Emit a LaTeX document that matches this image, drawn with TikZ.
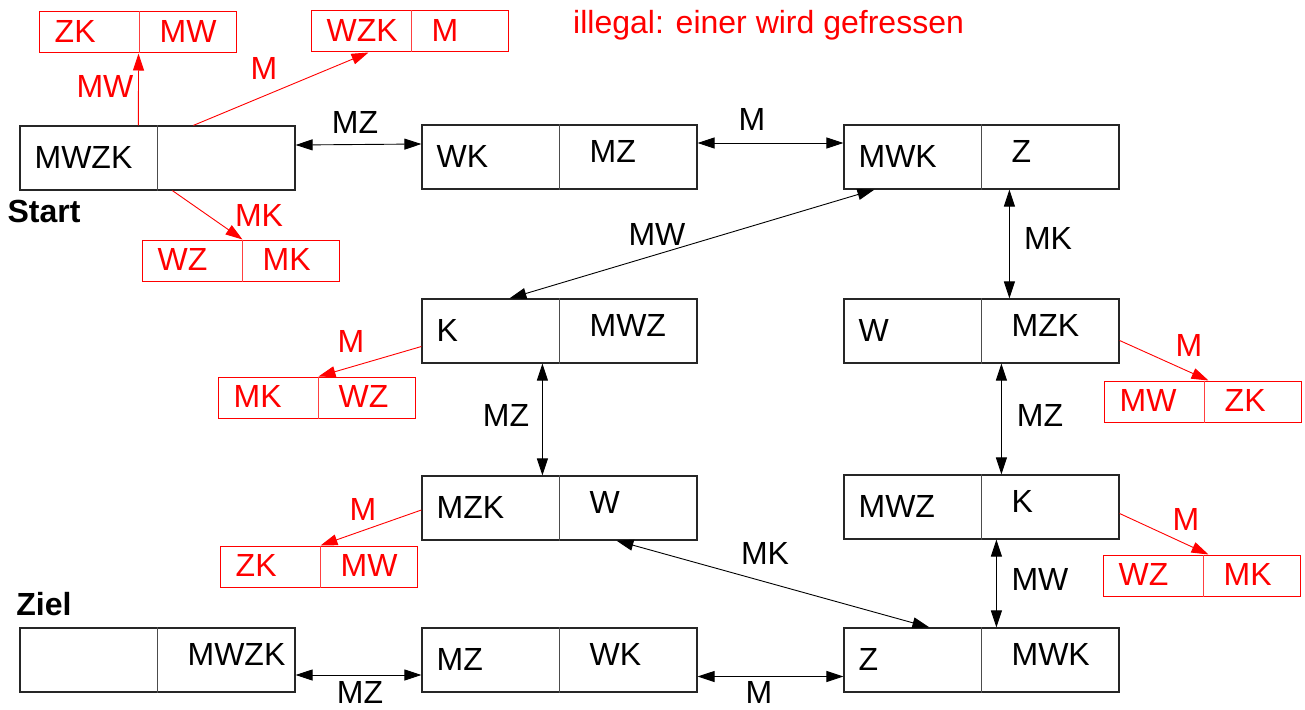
\documentclass[tikz,border=0pt]{standalone}
\usepackage{fontspec}
\setmainfont{Liberation Sans}
\usetikzlibrary{arrows.meta}
\newcommand\fsz{\fontsize{32}{38}\selectfont}
\tikzset{
  sbox/.style={draw=black!85, line width=1.2pt, minimum width=275pt, minimum height=64pt, inner sep=0pt},
  sdiv/.style={draw=black!70, line width=1.1pt},
  rbox/.style={draw=red, line width=1pt, minimum width=197pt, minimum height=41pt, inner sep=0pt},
  rdiv/.style={draw=red!75, line width=0.9pt},
  stext/.style={anchor=west, inner sep=0pt, font=\fsz, text=black},
  rtext/.style={anchor=west, inner sep=0pt, font=\fsz, text=red},
  lab/.style={inner sep=0pt, font=\fsz, text=black},
  rlab/.style={inner sep=0pt, font=\fsz, text=red},
  dbl/.style={line width=0.9pt, {Triangle[length=17pt,width=11pt]}-{Triangle[length=17pt,width=11pt]}},
  rarr/.style={draw=red, line width=0.9pt, -{Triangle[length=17pt,width=11pt]}},
}
\newcommand\statebox[5]{%
  \node[sbox] (#1) at (#2+137.5,#3+32) {};
  \draw[sdiv] ([xshift=138pt]#1.north west) -- ([xshift=138pt]#1.south west);
  \node[stext] (#1l) at ([xshift=15pt,yshift=1pt]#1.west) {#4};
  \node[stext] (#1r) at ([xshift=168pt,yshift=6pt]#1.west) {#5};
}
\newcommand\redbox[5]{%
  \node[rbox] (#1) at (#2+98.5,#3+20.5) {};
  \draw[rdiv] ([xshift=101pt]#1.north west) -- ([xshift=101pt]#1.south west);
  \node[rtext] (#1l) at ([xshift=16pt,yshift=1pt]#1.west) {#4};
  \node[rtext] (#1r) at ([xshift=121pt,yshift=1pt]#1.west) {#5};
}
\begin{document}
\begin{tikzpicture}[x=1pt,y=-1pt]
\useasboundingbox (0,0) rectangle (1305,709);
% black states
\statebox{s1}{20}{126}{MWZK}{}
\statebox{s2}{422}{125}{WK}{MZ}
\statebox{s3}{844}{125}{MWK}{Z}
\statebox{s4}{422}{299}{K}{MWZ}
\statebox{s5}{844}{299}{W}{MZK}
\statebox{s6}{422}{476}{MZK}{W}
\statebox{s7}{844}{475}{MWZ}{K}
\statebox{s8}{20}{628}{}{MWZK}
\statebox{s9}{422}{628}{MZ}{WK}
\statebox{s10}{844}{628}{Z}{MWK}
% red illegal states
\redbox{r1}{39}{12}{ZK}{MW}
\redbox{r2}{311}{11}{WZK}{M}
\redbox{r3}{142}{240}{WZ}{MK}
\redbox{r4}{218}{377}{MK}{WZ}
\redbox{r5}{220}{546}{ZK}{MW}
\redbox{r6}{1104}{381}{MW}{ZK}
\redbox{r7}{1103}{555}{WZ}{MK}
% black connectors
\draw[dbl] ([yshift=13pt]s1.east) -- ([yshift=13pt]s2.west);
\draw[dbl] ([yshift=14pt]s2.east) -- ([yshift=14pt]s3.west);
\draw[dbl] ([xshift=31pt]s3.south west) -- ([xshift=88pt]s4.north west);
\draw[dbl] ([xshift=166pt]s3.south west) -- ([xshift=166pt]s5.north west);
\draw[dbl] ([xshift=121pt]s4.south west) -- ([xshift=121pt]s6.north west);
\draw[dbl] ([xshift=158pt]s5.south west) -- ([xshift=158pt]s7.north west);
\draw[dbl] ([xshift=195pt]s6.south west) -- ([xshift=86pt]s10.north west);
\draw[dbl] ([xshift=153pt]s7.south west) -- ([xshift=153pt]s10.north west);
\draw[dbl] ([yshift=-15pt]s8.east) -- ([yshift=-15pt]s9.west);
\draw[dbl] ([yshift=-16.5pt]s9.east) -- ([yshift=-16.5pt]s10.west);
% red connectors
\draw[rarr] ([xshift=119pt]s1.north west) -- ([xshift=100pt]r1.south west);
\draw[rarr] ([xshift=174pt]s1.north west) -- ([xshift=58pt]r2.south west);
\draw[rarr] ([xshift=153pt]s1.south west) -- ([xshift=101pt]r3.north west);
\draw[rarr] ([yshift=-15.5pt]s4.west) -- ([xshift=101pt]r4.north west);
\draw[rarr] ([yshift=-2pt]s6.west) -- ([xshift=101pt]r5.north west);
\draw[rarr] ([yshift=-9.5pt]s5.east) -- ([xshift=105pt]r6.north west);
\draw[rarr] ([yshift=-6.5pt]s7.east) -- ([xshift=106pt]r7.north west);
% black labels
\node[lab] (l1) at (355,122) {MZ};
\node[lab] (l2) at (752,119) {M};
\node[lab] (l3) at (657,234) {MW};
\node[lab] (l4) at (1048,238) {MK};
\node[lab] (l5) at (506,415) {MZ};
\node[lab] (l6) at (1040,415) {MZ};
\node[lab] (l7) at (765,553) {MK};
\node[lab] (l8) at (1040,579) {MW};
\node[lab] (l9) at (360,692) {MZ};
\node[lab] (l10) at (759,692) {M};
% red labels
\node[rlab] (q1) at (105,86) {MW};
\node[rlab] (q2) at (264,68) {M};
\node[rlab] (q3) at (259,215) {MK};
\node[rlab] (q4) at (351,341) {M};
\node[rlab] (q5) at (363,509) {M};
\node[rlab] (q6) at (1189,345) {M};
\node[rlab] (q7) at (1186,519) {M};
% captions
\node[lab, font=\fsz\bfseries] (start) at (44,211) {Start};
\node[lab, font=\fsz\bfseries] (ziel) at (44,604) {Ziel};
\node[rlab, anchor=base west] (title) at (573,34) {illegal: einer wird gefressen};
\end{tikzpicture}
\end{document}
